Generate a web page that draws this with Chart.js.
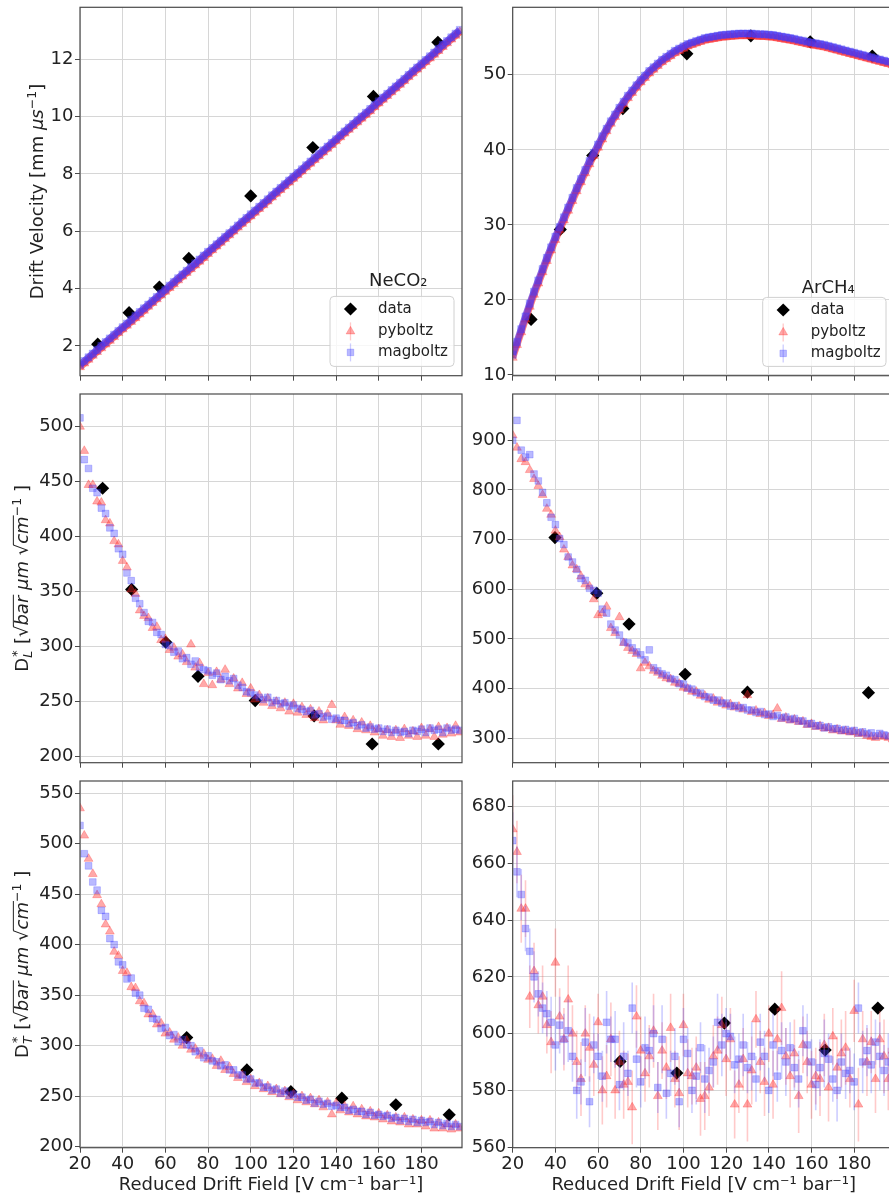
<!DOCTYPE html>
<html>
<head>
<meta charset="utf-8">
<script src="https://cdn.jsdelivr.net/npm/chart.js@4.4.0/dist/chart.umd.min.js"></script>
<style>
  html, body { margin: 0; padding: 0; background: #fff; width: 889px; height: 1196px; overflow: hidden; }
  .cell { position: absolute; }
  canvas { display: block; }
</style>
</head>
<body>
<div class="cell" style="left:0;top:0"><canvas id="vdNe" width="470" height="385"></canvas></div>
<div class="cell" style="left:470px;top:0"><canvas id="vdAr" width="435" height="385"></canvas></div>
<div class="cell" style="left:0;top:385px"><canvas id="dlNe" width="470" height="387"></canvas></div>
<div class="cell" style="left:470px;top:385px"><canvas id="dlAr" width="435" height="387"></canvas></div>
<div class="cell" style="left:0;top:772px"><canvas id="dtNe" width="470" height="424"></canvas></div>
<div class="cell" style="left:470px;top:772px"><canvas id="dtAr" width="435" height="424"></canvas></div>
<script>
// Reduced drift field grid of the simulations [V cm^-1 bar^-1]
const fieldGrid = [
  20,22,24,26,28,30,32,34,36,38,
  40,42,44,46,48,50,52,54,56,58,
  60,62,64,66,68,70,72,74,76,78,
  80,82,84,86,88,90,92,94,96,98,
  100,102,104,106,108,110,112,114,116,118,
  120,122,124,126,128,130,132,134,136,138,
  140,142,144,146,148,150,152,154,156,158,
  160,162,164,166,168,170,172,174,176,178,
  180,182,184,186,188,190,192,194,196,198
];

const xTicks = [20, 40, 60, 80, 100, 120, 140, 160, 180];
const vdNeTicks = [2, 4, 6, 8, 10, 12];
const vdArTicks = [10, 20, 30, 40, 50];
const dlNeTicks = [200, 250, 300, 350, 400, 450, 500];
const dlArTicks = [300, 400, 500, 600, 700, 800, 900];
const dtNeTicks = [200, 250, 300, 350, 400, 450, 500, 550];
const dtArTicks = [560, 580, 600, 620, 640, 660, 680];

// ---- Drift velocity, NeCO2 [mm/us]
const vdNeMag = [
  1.34,1.47,1.60,1.73,1.86,2.00,2.13,2.26,2.39,2.52,
  2.65,2.78,2.91,3.05,3.18,3.31,3.44,3.57,3.70,3.83,
  3.96,4.10,4.23,4.36,4.49,4.62,4.75,4.88,5.01,5.15,
  5.28,5.41,5.54,5.67,5.80,5.93,6.06,6.20,6.33,6.46,
  6.59,6.72,6.85,6.98,7.11,7.25,7.38,7.51,7.64,7.77,
  7.90,8.03,8.16,8.30,8.43,8.56,8.69,8.82,8.95,9.08,
  9.21,9.35,9.48,9.61,9.74,9.87,10.00,10.13,10.26,10.40,
  10.53,10.66,10.79,10.92,11.05,11.18,11.31,11.45,11.58,11.71,
  11.84,11.97,12.10,12.23,12.36,12.50,12.63,12.76,12.89,13.02
];
const vdNePy = [
  1.26,1.39,1.52,1.66,1.79,1.92,2.05,2.18,2.31,2.45,
  2.58,2.71,2.84,2.97,3.10,3.23,3.37,3.50,3.63,3.76,
  3.89,4.02,4.15,4.29,4.42,4.55,4.68,4.81,4.94,5.07,
  5.21,5.34,5.47,5.60,5.73,5.86,5.99,6.13,6.26,6.39,
  6.52,6.65,6.78,6.91,7.04,7.18,7.31,7.44,7.57,7.70,
  7.83,7.96,8.09,8.23,8.36,8.49,8.62,8.75,8.88,9.01,
  9.14,9.28,9.41,9.54,9.67,9.80,9.93,10.06,10.19,10.33,
  10.46,10.59,10.72,10.85,10.98,11.11,11.24,11.38,11.51,11.64,
  11.77,11.90,12.03,12.16,12.29,12.43,12.56,12.69,12.82,12.95
];
const vdNeDataX = [28.3, 43.0, 57.2, 71.0, 100.0, 129.1, 157.5, 187.7];
const vdNeDataY = [2.06, 3.16, 4.05, 5.05, 7.23, 8.92, 10.70, 12.59];

// ---- Drift velocity, ArCH4 [mm/us]
const vdArMag = [
  12.7,14.4,16.1,17.8,19.5,21.1,22.6,24.1,25.6,27.0,
  28.4,29.7,31.0,32.3,33.6,34.9,36.1,37.3,38.5,39.6,
  40.7,41.8,42.8,43.8,44.7,45.6,46.4,47.2,47.9,48.6,
  49.3,49.9,50.5,51.0,51.5,52.0,52.4,52.8,53.2,53.5,
  53.8,54.1,54.3,54.5,54.7,54.9,55.0,55.1,55.2,55.3,
  55.35,55.4,55.45,55.5,55.5,55.5,55.5,55.45,55.4,55.4,
  55.35,55.3,55.2,55.1,55.0,54.9,54.8,54.65,54.55,54.4,
  54.3,54.2,54.1,54.0,53.85,53.7,53.55,53.4,53.25,53.1,
  52.95,52.8,52.65,52.5,52.35,52.2,52.05,51.9,51.75,51.6
];
const vdArPy = [
  12.3,14.0,15.7,17.4,19.1,20.7,22.2,23.7,25.2,26.6,
  28.0,29.3,30.6,31.9,33.2,34.5,35.7,36.9,38.1,39.2,
  40.3,41.4,42.5,43.5,44.4,45.3,46.1,46.9,47.6,48.3,
  49.0,49.6,50.2,50.7,51.2,51.7,52.1,52.5,52.9,53.2,
  53.5,53.8,54.0,54.2,54.4,54.6,54.7,54.8,54.9,55.0,
  55.05,55.1,55.15,55.2,55.2,55.2,55.2,55.15,55.1,55.1,
  55.05,55.0,54.9,54.8,54.7,54.6,54.5,54.35,54.25,54.1,
  54.0,53.9,53.8,53.7,53.55,53.4,53.25,53.1,52.95,52.8,
  52.65,52.5,52.35,52.2,52.05,51.9,51.75,51.6,51.45,51.3
];
const vdArDataX = [28.6, 42.3, 57.5, 71.6, 101.6, 131.6, 159.4, 188.5];
const vdArDataY = [17.4, 29.4, 39.25, 45.5, 52.8, 55.2, 54.4, 52.5];

// ---- Longitudinal diffusion, NeCO2
const dlNeMag = [
  508,470,462,444,440,426,421,408,403,389,
  384,367,360,344,339,331,323,322,313,311,
  302,301,295,296,289,290,284,287,281,279,
  278,274,276,270,273,269,271,265,263,259,
  258,256,254,252,254,249,251,248,249,246,
  247,244,243,241,242,238,239,236,237,234,
  235,233,233,230,231,228,229,226,227,225,
  226,223,225,222,224,222,223,221,224,223,
  225,222,226,224,225,222,226,224,225,224
];
const dlNePy = [
  500,478,447,447,432,431,415,412,396,393,
  378,372,352,348,333,328,326,317,318,306,
  307,297,299,291,293,286,302,281,285,266,
  276,265,277,270,279,266,271,262,267,257,
  262,252,256,249,253,246,250,244,249,241,
  248,240,245,238,243,235,241,233,239,247,
  233,229,236,228,233,225,231,224,228,222,
  225,219,224,218,224,217,225,219,223,218,
  226,219,225,218,227,220,226,221,228,222
];
const dlNeDataX = [30.6, 44.2, 60.2, 75.3, 102.1, 129.7, 156.9, 187.9];
const dlNeDataY = [444, 352, 304, 273, 251, 237, 211.5, 211.5];

// ---- Longitudinal diffusion, ArCH4
const dlArMag = [
  900,940,880,866,871,832,818,795,774,745,
  730,702,690,665,655,640,622,618,602,598,
  592,560,552,530,518,508,494,492,482,474,
  468,458,478,442,436,430,427,420,418,410,
  409,401,399,392,391,384,383,377,377,371,
  371,365,366,361,362,357,357,352,354,348,
  349,344,346,341,343,338,340,335,335,329,
  330,325,326,321,323,319,320,316,318,314,
  316,311,313,309,311,305,310,307,305,301
];
const dlArPy = [
  910,885,862,856,840,822,808,790,762,750,
  718,705,680,665,648,640,626,610,606,580,
  548,552,565,522,512,544,492,482,476,470,
  441,452,445,436,432,426,421,419,412,410,
  402,400,394,394,386,386,378,380,372,374,
  366,369,362,364,358,387,353,356,349,351,
  345,347,360,339,342,336,338,333,334,327,
  329,323,325,320,321,316,318,314,315,312,
  313,309,310,305,303,301,305,303,301,298
];
const dlArDataX = [39.8, 59.4, 74.5, 100.8, 130.0, 186.7];
const dlArDataY = [704, 592, 530, 429, 393, 392];

// ---- Transverse diffusion, NeCO2
const dtNeMag = [
  518,490,478,462,454,434,428,406,400,383,
  380,366,367,352,350,337,336,327,326,317,
  318,310,311,304,306,301,300,294,295,288,
  290,285,284,280,281,276,276,271,271,267,
  267,263,263,259,259,256,257,253,255,251,
  252,249,249,246,247,243,245,242,243,240,
  241,239,239,236,237,235,235,232,234,231,
  232,230,231,228,229,226,228,225,227,224,
  226,224,225,222,224,221,223,220,222,220
];
const dtNePy = [
  535,508,485,470,449,440,420,413,393,389,
  374,372,358,357,344,342,331,331,321,322,
  312,313,306,308,300,305,296,297,290,292,
  286,287,280,285,276,279,272,268,271,264,
  267,260,263,257,260,254,257,252,255,249,
  252,246,250,244,248,242,246,239,244,232,
  243,236,240,234,240,232,237,230,235,229,
  233,227,231,225,229,224,229,222,227,222,
  226,220,226,218,224,218,222,217,222,218
];
const dtNeDataX = [70.0, 98.2, 118.8, 142.7, 168.0, 193.0];
const dtNeDataY = [308, 276, 254.5, 248, 241.5, 231.5];

// ---- Transverse diffusion, ArCH4 (with statistical errors)
const dtArMag = [
  668,657,649,637,629,620,614,609,607,604,
  596,603,598,601,592,580,583,597,576,596,
  592,585,604,598,598,582,592,586,609,591,
  583,595,594,600,581,598,579,586,592,576,
  598,593,580,585,595,584,587,590,604,596,
  600,599,589,591,596,588,592,584,597,592,
  580,596,585,594,590,595,588,584,601,596,
  590,582,588,593,591,584,580,590,586,587,
  583,609,590,594,589,597,592,587,590,588
];
const dtArMagErr = [
  10,9,9,8,8,9,8,9,8,9,
  9,10,9,11,9,10,8,12,9,10,
  8,9,11,8,10,9,12,8,9,10,
  9,11,8,10,9,12,9,8,10,9,
  11,9,8,10,9,12,8,9,10,11,
  9,8,10,9,11,9,12,8,10,9,
  8,11,9,10,12,9,8,10,9,11,
  8,9,10,12,9,8,11,10,9,8,
  10,9,11,9,10,8,12,9,10,9
];
const dtArPy = [
  672,664,644,644,613,622,610,613,603,597,
  625,606,598,612,600,590,584,600,595,589,
  604,580,585,598,580,590,582,583,574,606,
  594,586,592,601,578,594,588,602,584,579,
  603,586,585,588,577,578,581,592,594,603,
  591,598,575,582,591,575,587,605,590,583,
  600,582,598,609,592,585,593,578,596,590,
  582,585,584,596,581,599,588,593,595,584,
  608,575,598,590,597,584,598,592,584,594
];
const dtArPyErr = [
  12,11,12,10,11,10,10,11,10,11,
  12,10,11,12,10,11,13,10,12,11,
  10,12,11,13,10,11,12,10,13,11,
  12,10,11,13,12,10,11,12,10,13,
  11,12,10,11,13,12,10,11,12,10,
  13,11,12,10,11,13,12,10,11,12,
  10,12,11,13,10,11,12,13,10,11,
  12,10,13,11,12,10,11,12,13,10,
  11,13,10,12,11,12,10,13,11,12
];
const dtArDataX = [70.3, 96.9, 119.2, 142.8, 166.4, 191.1];
const dtArDataY = [590.2, 586.1, 603.7, 608.6, 594.2, 609.0];

// ---------------------------------------------------------------
const FONT = '"DejaVu Sans", "Liberation Sans", sans-serif';
Chart.defaults.font.family = FONT;
const TEXT = '#222222';
const PY_FILL = 'rgba(255, 40, 40, 0.40)';
const PY_EDGE = 'rgba(255, 40, 40, 0.28)';
const MAG_FILL = 'rgba(60, 60, 255, 0.36)';
const MAG_EDGE = 'rgba(60, 60, 255, 0.26)';

// Draws a mixed-style label: italic runs, super/subscripts, overlined radicands.
function drawRich(ctx, segs, size, cx, cy, rotate) {
  const fontOf = (s, it) => `${it ? 'italic ' : ''}${s}px ${FONT}`;
  const small = size * 0.7;
  const items = segs.map(sg => {
    if (sg.stack) {
      ctx.font = fontOf(small, false);
      const w1 = ctx.measureText(sg.stack[0]).width;
      ctx.font = fontOf(small, true);
      const w2 = ctx.measureText(sg.stack[1]).width;
      return { sg, w: Math.max(w1, w2) + 1 };
    }
    ctx.font = fontOf(sg.sup || sg.sub ? small : size, sg.it);
    return { sg, w: ctx.measureText(sg.t).width };
  });
  const total = items.reduce((a, b) => a + b.w, 0);
  ctx.save();
  ctx.translate(cx, cy);
  if (rotate) ctx.rotate(-Math.PI / 2);
  ctx.textBaseline = 'alphabetic';
  ctx.textAlign = 'left';
  ctx.fillStyle = TEXT;
  ctx.strokeStyle = TEXT;
  const base = size * 0.36;
  let x = -total / 2;
  items.forEach(({ sg, w }) => {
    if (sg.stack) {
      ctx.font = fontOf(small, false);
      ctx.fillText(sg.stack[0], x + 1, base - size * 0.42);
      ctx.font = fontOf(small, true);
      ctx.fillText(sg.stack[1], x, base + size * 0.22);
    } else {
      const s = sg.sup || sg.sub ? small : size;
      const dy = sg.sup ? -size * 0.42 : (sg.sub ? size * 0.22 : 0);
      ctx.font = fontOf(s, sg.it);
      ctx.fillText(sg.t, x, base + dy);
      if (sg.over) {
        ctx.lineWidth = 1;
        ctx.beginPath();
        ctx.moveTo(x - 1, base - size * 0.84);
        ctx.lineTo(x + w + 1, base - size * 0.84);
        ctx.stroke();
      }
    }
    x += w;
  });
  ctx.restore();
}

function marker(ctx, style, x, y, r, fill, edge) {
  ctx.save();
  ctx.fillStyle = fill;
  ctx.strokeStyle = edge || fill;
  ctx.lineWidth = 1;
  ctx.beginPath();
  if (style === 'diamond') {
    ctx.moveTo(x, y - r); ctx.lineTo(x + r, y); ctx.lineTo(x, y + r); ctx.lineTo(x - r, y);
  } else if (style === 'triangle') {
    ctx.moveTo(x, y - r); ctx.lineTo(x + r * 0.87, y + r * 0.5); ctx.lineTo(x - r * 0.87, y + r * 0.5);
  } else {
    const h = r * 0.707;
    ctx.rect(x - h, y - h, 2 * h, 2 * h);
  }
  ctx.closePath();
  ctx.fill();
  if (edge) ctx.stroke();
  ctx.restore();
}

const framePlugin = {
  id: 'frame',
  afterDatasetsDraw(chart) {
    const { ctx, chartArea: a } = chart;
    ctx.save();
    ctx.strokeStyle = '#4a4a4a';
    ctx.lineWidth = 1.2;
    ctx.strokeRect(a.left, a.top, a.right - a.left, a.bottom - a.top);
    ctx.restore();
  }
};

const errorBarPlugin = {
  id: 'errorBars',
  beforeDatasetDraw(chart, args) {
    const ds = chart.data.datasets[args.index];
    if (!ds.errors) return;
    const { ctx, chartArea: a } = chart;
    const ys = chart.scales.y;
    ctx.save();
    ctx.beginPath();
    ctx.rect(a.left, a.top, a.right - a.left, a.bottom - a.top);
    ctx.clip();
    ctx.strokeStyle = ds.errorColor;
    ctx.lineWidth = 1.6;
    args.meta.data.forEach((pt, i) => {
      const v = ds.data[i].y, e = ds.errors[i];
      ctx.beginPath();
      ctx.moveTo(pt.x, ys.getPixelForValue(v + e));
      ctx.lineTo(pt.x, ys.getPixelForValue(v - e));
      ctx.stroke();
    });
    ctx.restore();
  }
};

function makeChart(cfg) {
  const pts = ys => fieldGrid.map((x, i) => ({ x, y: ys[i] }));
  const band = !!cfg.band;
  const datasets = [
    {
      label: 'magboltz', data: pts(cfg.mag), pointStyle: 'rect', pointRadius: band ? 5 : 4.7,
      backgroundColor: MAG_FILL, borderColor: band ? 'rgba(100, 45, 210, 0.72)' : MAG_EDGE,
      pointBorderColor: MAG_EDGE, borderWidth: band ? 7 : 1, pointBorderWidth: 1,
      showLine: band, tension: 0,
      errors: cfg.magErr, errorColor: 'rgba(90, 90, 255, 0.30)'
    },
    {
      label: 'pyboltz', data: pts(cfg.py), pointStyle: 'triangle', pointRadius: band ? 5.2 : 5.1,
      backgroundColor: PY_FILL, borderColor: band ? 'rgba(255, 45, 45, 0.6)' : PY_EDGE,
      pointBorderColor: PY_EDGE, borderWidth: band ? 7 : 1, pointBorderWidth: 1,
      showLine: band, tension: 0,
      errors: cfg.pyErr, errorColor: 'rgba(255, 80, 80, 0.30)'
    },
    {
      label: 'data', data: cfg.dataX.map((x, i) => ({ x, y: cfg.dataY[i] })),
      pointStyle: 'rectRot', pointRadius: 6.6, backgroundColor: '#000', borderColor: '#000',
      borderWidth: 0, showLine: false
    }
  ];

  const titlePlugin = {
    id: 'yTitle',
    afterDraw(chart) {
      if (!cfg.yTitle) return;
      const a = chart.chartArea;
      drawRich(chart.ctx, cfg.yTitle, 18, cfg.yTitleX, (a.top + a.bottom) / 2, true);
    }
  };

  const legendPlugin = {
    id: 'legendBox',
    afterDraw(chart) {
      if (!cfg.legend) return;
      const L = cfg.legend;
      const { ctx, chartArea: a } = chart;
      const bx = a.right - L.right - L.w, by = a.bottom - L.bottom - L.h;
      ctx.save();
      ctx.font = `18px ${FONT}`;
      ctx.fillStyle = TEXT;
      ctx.textAlign = 'center';
      ctx.textBaseline = 'alphabetic';
      ctx.fillText(L.title, a.right - L.titleDx, a.bottom - L.titleDy);
      ctx.beginPath();
      ctx.roundRect(bx, by, L.w, L.h, 4);
      ctx.fillStyle = 'rgba(255,255,255,0.8)';
      ctx.fill();
      ctx.strokeStyle = '#d0d0d0';
      ctx.lineWidth = 1;
      ctx.stroke();
      const rows = [12.6, 35, 56];
      const mx = bx + 20.5, tx = bx + 48;
      // data
      marker(ctx, 'diamond', mx, by + rows[0], 6.6, '#000');
      // pyboltz
      ctx.strokeStyle = 'rgba(255, 80, 80, 0.3)';
      ctx.lineWidth = 1.3;
      ctx.beginPath(); ctx.moveTo(mx, by + rows[1] - 9); ctx.lineTo(mx, by + rows[1] + 9); ctx.stroke();
      marker(ctx, 'triangle', mx, by + rows[1], 5, PY_FILL, PY_EDGE);
      // magboltz
      ctx.strokeStyle = 'rgba(90, 90, 255, 0.3)';
      ctx.beginPath(); ctx.moveTo(mx, by + rows[2] - 9); ctx.lineTo(mx, by + rows[2] + 9); ctx.stroke();
      marker(ctx, 'rect', mx, by + rows[2], 4.6, MAG_FILL, MAG_EDGE);
      ctx.font = `15px ${FONT}`;
      ctx.fillStyle = TEXT;
      ctx.textAlign = 'left';
      ctx.textBaseline = 'middle';
      ['data', 'pyboltz', 'magboltz'].forEach((t, i) => ctx.fillText(t, tx, by + rows[i]));
      ctx.restore();
    }
  };

  return new Chart(document.getElementById(cfg.id), {
    type: 'scatter',
    data: { datasets },
    options: {
      responsive: false,
      animation: false,
      devicePixelRatio: 1,
      events: [],
      layout: { padding: { top: cfg.padTop, right: cfg.padRight, left: 0, bottom: 0 } },
      plugins: { legend: { display: false }, tooltip: { enabled: false } },
      scales: {
        x: {
          type: 'linear', min: 20, max: 199,
          afterBuildTicks: s => { s.ticks = xTicks.map(v => ({ value: v })); },
          afterFit: s => { s.height = cfg.xh; s.paddingLeft = 0; s.paddingRight = 0; },
          grid: { color: '#d6d6d6', lineWidth: 1, tickColor: '#4a4a4a', tickLength: 5, drawTicks: true },
          border: { display: false },
          ticks: { display: cfg.showX, font: { size: 18 }, color: TEXT, padding: 1, maxRotation: 0, autoSkip: false },
          title: {
            display: cfg.showX, text: 'Reduced Drift Field [V cm⁻¹ bar⁻¹]',
            font: { size: 18 }, color: TEXT, padding: { top: 0, bottom: 0 }
          }
        },
        y: {
          type: 'linear', min: cfg.yMin, max: cfg.yMax,
          afterBuildTicks: s => { s.ticks = cfg.yTicks.map(v => ({ value: v })); },
          afterFit: s => { s.width = cfg.yw; s.paddingTop = 0; s.paddingBottom = 0; },
          grid: { color: '#d6d6d6', lineWidth: 1, tickColor: '#4a4a4a', tickLength: 5, drawTicks: true },
          border: { display: false },
          ticks: { font: { size: 18 }, color: TEXT, padding: 1.5, autoSkip: false }
        }
      }
    },
    plugins: [errorBarPlugin, framePlugin, titlePlugin, legendPlugin]
  });
}

const leftCol = { yw: 80, padRight: 8 };
const rightCol = { yw: 42.7, padRight: 10.3 };
const topRow = { padTop: 7.3, xh: 9.3, showX: false };
const midRow = { padTop: 9, xh: 9.3, showX: false };
const botRow = { padTop: 9, xh: 48.3, showX: true };

const dTitle = sub => [
  { t: 'D' }, { stack: ['*', sub] }, { t: ' [' }, { t: '√' }, { t: 'bar', it: true, over: true },
  { t: ' ' }, { t: 'μm', it: true }, { t: ' ' }, { t: '√' }, { t: 'cm', it: true, over: true },
  { t: '−1', sup: true }, { t: ' ]' }
];

makeChart(Object.assign({ id: 'vdNe', mag: vdNeMag, py: vdNePy, dataX: vdNeDataX, dataY: vdNeDataY,
  yMin: 0.96, yMax: 13.81, yTicks: vdNeTicks, band: true,
  yTitle: [{ t: 'Drift Velocity [mm ' }, { t: 'μs', it: true }, { t: '−1', sup: true }, { t: ']' }], yTitleX: 37,
  legend: { title: 'NeCO₂', titleDx: 63.7, titleDy: 89.4, right: 8, bottom: 9.3, w: 124, h: 70 } },
  leftCol, topRow));

makeChart(Object.assign({ id: 'vdAr', mag: vdArMag, py: vdArPy, dataX: vdArDataX, dataY: vdArDataY,
  yMin: 9.9, yMax: 59, yTicks: vdArTicks, band: true,
  legend: { title: 'ArCH₄', titleDx: 66.4, titleDy: 82.7, right: 8.7, bottom: 9.3, w: 123.3, h: 69 } },
  rightCol, topRow));

makeChart(Object.assign({ id: 'dlNe', mag: dlNeMag, py: dlNePy, dataX: dlNeDataX, dataY: dlNeDataY,
  yMin: 194.5, yMax: 529.7, yTicks: dlNeTicks, yTitle: dTitle('L'), yTitleX: 22 },
  leftCol, midRow));

makeChart(Object.assign({ id: 'dlAr', mag: dlArMag, py: dlArPy, dataX: dlArDataX, dataY: dlArDataY,
  yMin: 251, yMax: 993, yTicks: dlArTicks },
  rightCol, midRow));

makeChart(Object.assign({ id: 'dtNe', mag: dtNeMag, py: dtNePy, dataX: dtNeDataX, dataY: dtNeDataY,
  yMin: 199, yMax: 562, yTicks: dtNeTicks, yTitle: dTitle('T'), yTitleX: 22 },
  leftCol, botRow));

makeChart(Object.assign({ id: 'dtAr', mag: dtArMag, py: dtArPy, magErr: dtArMagErr, pyErr: dtArPyErr,
  dataX: dtArDataX, dataY: dtArDataY, yMin: 559.8, yMax: 689, yTicks: dtArTicks },
  rightCol, botRow));
</script>
</body>
</html>
